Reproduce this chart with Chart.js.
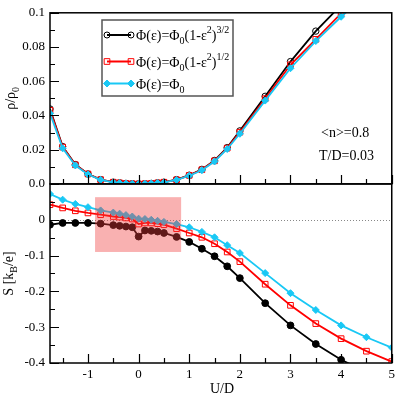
<!DOCTYPE html>
<html><head><meta charset="utf-8">
<script src="https://cdn.jsdelivr.net/npm/chart.js@4/dist/chart.umd.min.js"></script>
<style>html,body{margin:0;padding:0;background:#fff;}#wrap{width:399px;height:399px;}</style>
</head><body><div id="wrap"><canvas id="c" width="399" height="399"></canvas></div>
<script>
// ---- data ----
const uTop = [-1.75,-1.5,-1.25,-1,-0.75,-0.5,-0.375,-0.25,-0.125,0,0.125,0.25,0.375,0.5,0.75,1,1.25,1.5,1.75,2,2.5,3,3.5,4,4.5];
const rhoBlack = [0.0438,0.0218,0.0113,0.0058,0.0025,0.0010,0.0006,0.0003,0.0001,0.0000,0.0001,0.0003,0.0006,0.0010,0.0025,0.0051,0.0085,0.0137,0.0212,0.0310,0.0512,0.0715,0.0893,0.1045,0.1200];
const rhoRed   = [0.0430,0.0215,0.0112,0.0058,0.0025,0.0010,0.0006,0.0003,0.0001,0.0000,0.0001,0.0003,0.0006,0.0010,0.0024,0.0050,0.0083,0.0135,0.0209,0.0302,0.0498,0.0696,0.0845,0.0996,0.1140];
const rhoCyan  = [0.0412,0.0208,0.0108,0.0055,0.0024,0.0009,0.0005,0.0003,0.0001,0.0000,0.0001,0.0003,0.0005,0.0009,0.0023,0.0048,0.0080,0.0131,0.0204,0.0293,0.0487,0.0676,0.0835,0.0977,0.1110];
const uBot = [-1.75,-1.5,-1.25,-1,-0.75,-0.5,-0.375,-0.25,-0.125,0,0.125,0.25,0.375,0.5,0.75,1,1.25,1.5,1.75,2,2.5,3,3.5,4,4.5,5];
const sBlack = [-0.014,-0.009,-0.009,-0.009,-0.011,-0.015,-0.017,-0.019,-0.021,-0.047,-0.030,-0.031,-0.033,-0.037,-0.048,-0.062,-0.081,-0.102,-0.130,-0.163,-0.233,-0.295,-0.347,-0.391,-0.425];
const sRed   = [0.042,0.033,0.025,0.019,0.014,0.009,0.0075,0.005,0.002,-0.012,-0.009,-0.009,-0.011,-0.014,-0.025,-0.037,-0.049,-0.067,-0.090,-0.117,-0.180,-0.239,-0.290,-0.332,-0.367,-0.396];
const sCyan  = [0.072,0.056,0.044,0.035,0.026,0.020,0.017,0.013,0.009,0.003,0.002,0.000,-0.003,-0.006,-0.012,-0.021,-0.034,-0.049,-0.071,-0.093,-0.149,-0.205,-0.252,-0.295,-0.328,-0.357];
const xTicks = [-1,0,1,2,3,4,5];
const rhoTicks = [0,0.02,0.04,0.06,0.08,0.1];
const rhoTickLabels = ['0.0','0.02','0.04','0.06','0.08','0.1'];
const sTicks = [-0.4,-0.3,-0.2,-0.1,0];
const sTickLabels = ['-0.4','-0.3','-0.2','-0.1','0'];
const seriesNames = ['Φ(ε)=Φ0(1-ε²)^3/2','Φ(ε)=Φ0(1-ε²)^1/2','Φ(ε)=Φ0'];
const highlightU = [-0.86, 0.84];
const highlightS = [0.063, -0.090];

const BLACK = '#000000', RED = '#ff0000', CYAN = 'rgb(25,200,245)';
const FONT = '"Liberation Serif", "Times New Roman", serif';
Chart.defaults.font.family = FONT;

const pts = (xs, ys) => ys.map((v, i) => ({x: xs[i], y: v}));

function drawRich(ctx, segs, x, y) {
  let cx = x;
  for (const s of segs) {
    ctx.font = (s[1] === 'n' ? '14px ' : '10px ') + FONT;
    const dy = s[1] === 'sub' ? 4 : (s[1] === 'sup' ? -7 : 0);
    ctx.fillText(s[0], cx, y + dy);
    cx += ctx.measureText(s[0]).width;
  }
  return cx - x;
}
function richWidth(ctx, segs) {
  let w = 0;
  for (const s of segs) { ctx.font = (s[1] === 'n' ? '14px ' : '10px ') + FONT; w += ctx.measureText(s[0]).width; }
  return w;
}

const legendRows = [
  {color: BLACK, style: 'circle', fill: 'rgba(255,255,255,0)', r: 3, segs: [['Φ(ε)=Φ','n'],['0','sub'],['(1-ε','n'],['2','sup'],[')','n'],['3/2','sup']]},
  {color: RED, style: 'rect', fill: 'rgba(255,255,255,0)', r: 4, segs: [['Φ(ε)=Φ','n'],['0','sub'],['(1-ε','n'],['2','sup'],[')','n'],['1/2','sup']]},
  {color: CYAN, style: 'rectRot', fill: CYAN, r: 3.5, segs: [['Φ(ε)=Φ','n'],['0','sub']]}
];

const panelPlugin = {
  id: 'panels',
  beforeDatasetsDraw(chart) {
    const {ctx} = chart; const x = chart.scales.x, yb = chart.scales.yBot;
    ctx.save();
    ctx.strokeStyle = '#888'; ctx.lineWidth = 1; ctx.setLineDash([1, 2]);
    const y0 = Math.round(yb.getPixelForValue(0)) + 0.5;
    ctx.beginPath(); ctx.moveTo(x.left, y0); ctx.lineTo(x.right, y0); ctx.stroke();
    ctx.restore();
  },
  afterDatasetsDraw(chart) {
    const {ctx} = chart; const x = chart.scales.x, yt = chart.scales.yTop, yb = chart.scales.yBot;
    ctx.save();
    const rx0 = x.getPixelForValue(highlightU[0]), rx1 = x.getPixelForValue(highlightU[1]);
    const ry0 = yb.getPixelForValue(highlightS[0]), ry1 = yb.getPixelForValue(highlightS[1]);
    ctx.fillStyle = 'rgba(240,60,60,0.4)';
    ctx.fillRect(rx0, ry0, rx1 - rx0, ry1 - ry0);
    ctx.strokeStyle = '#000'; ctx.lineWidth = 1.5;
    ctx.strokeRect(x.left, yt.top, x.right - x.left, yt.bottom - yt.top);
    ctx.strokeRect(x.left, yb.top, x.right - x.left, yb.bottom - yb.top);
    ctx.lineWidth = 1.2;
    ctx.beginPath();
    for (let k = -3; k <= 10; k++) {
      const v = k / 2; if (v < x.min || v > x.max) continue;
      const px = Math.round(x.getPixelForValue(v)) + 0.5;
      const len = (k % 2 === 0) ? 9 : 5;
      for (const yy of [yt.bottom, yb.bottom]) { ctx.moveTo(px, yy); ctx.lineTo(px, yy - len); }
    }
    for (let k = 0; k <= 10; k++) {
      const py = Math.round(yt.getPixelForValue(k / 100)) + 0.5;
      const len = (k % 2 === 0) ? 9 : 5;
      ctx.moveTo(x.left, py); ctx.lineTo(x.left + len, py);
    }
    for (let k = -8; k <= 2; k++) {
      const py = Math.round(yb.getPixelForValue(k / 20)) + 0.5;
      const len = (k % 2 === 0) ? 9 : 5;
      ctx.moveTo(x.left, py); ctx.lineTo(x.left + len, py);
    }
    ctx.stroke();

    // legend
    ctx.fillStyle = '#fff';
    ctx.fillRect(102, 20, 131, 76);
    ctx.strokeStyle = '#555'; ctx.lineWidth = 1.5;
    ctx.strokeRect(102, 20, 131, 76);
    const rowY = [35, 61.5, 83.5];
    legendRows.forEach((r, i) => {
      const y = rowY[i];
      ctx.strokeStyle = r.color; ctx.lineWidth = 2;
      ctx.beginPath(); ctx.moveTo(107, y); ctx.lineTo(131, y); ctx.stroke();
      for (const mx of [107, 131]) {
        ctx.fillStyle = r.fill; ctx.strokeStyle = r.color; ctx.lineWidth = 1;
        Chart.helpers.drawPoint(ctx, {pointStyle: r.style, radius: r.r, borderWidth: 1, rotation: 0}, mx, y);
      }
      ctx.fillStyle = '#000'; ctx.textAlign = 'left'; ctx.textBaseline = 'alphabetic';
      drawRich(ctx, r.segs, 136, y + 5);
    });

    ctx.fillStyle = '#000'; ctx.font = '14px ' + FONT; ctx.textAlign = 'left'; ctx.textBaseline = 'alphabetic';
    ctx.fillText('<n>=0.8', 321, 137);
    ctx.fillText('T/D=0.03', 319, 160);
    ctx.textAlign = 'center';
    ctx.fillText('U/D', 222, 393);
    const titles = [
      {segs: [['ρ/ρ','n'],['0','sub']], cx: 15, cy: (yt.top + yt.bottom) / 2},
      {segs: [['S [k','n'],['B','sub'],['/e]','n']], cx: 13, cy: (yb.top + yb.bottom) / 2}
    ];
    ctx.textAlign = 'left';
    for (const t of titles) {
      ctx.save();
      ctx.translate(t.cx, t.cy); ctx.rotate(-Math.PI / 2);
      const w = richWidth(ctx, t.segs);
      drawRich(ctx, t.segs, -w / 2, 0);
      ctx.restore();
    }
    ctx.restore();
  }
};

const tickFont = {family: FONT, size: 13};
new Chart(document.getElementById('c'), {
  type: 'line',
  data: {
    datasets: [
      {label: seriesNames[0], yAxisID: 'yTop', data: pts(uTop, rhoBlack), borderColor: BLACK, borderWidth: 1.8,
       pointStyle: 'circle', pointRadius: 3.2, pointBorderWidth: 1, pointBorderColor: BLACK, pointBackgroundColor: 'rgba(0,0,0,0)', order: 3},
      {label: seriesNames[1], yAxisID: 'yTop', data: pts(uTop, rhoRed), borderColor: RED, borderWidth: 1.8,
       pointStyle: 'rect', pointRadius: 4, pointBorderWidth: 1, pointBorderColor: RED, pointBackgroundColor: 'rgba(0,0,0,0)', order: 2},
      {label: seriesNames[2], yAxisID: 'yTop', data: pts(uTop, rhoCyan), borderColor: CYAN, borderWidth: 1.8,
       pointStyle: 'rectRot', pointRadius: 3.5, pointBorderWidth: 1, pointBorderColor: CYAN, pointBackgroundColor: CYAN, order: 1},
      {label: seriesNames[0], yAxisID: 'yBot', data: pts(uBot, sBlack), borderColor: BLACK, borderWidth: 1.8,
       pointStyle: 'circle', pointRadius: 3.4, pointBorderWidth: 1, pointBorderColor: BLACK, pointBackgroundColor: BLACK, order: 3},
      {label: seriesNames[1], yAxisID: 'yBot', data: pts(uBot, sRed), borderColor: RED, borderWidth: 1.8,
       pointStyle: 'rect', pointRadius: 4, pointBorderWidth: 1, pointBorderColor: RED, pointBackgroundColor: 'rgba(0,0,0,0)', order: 2},
      {label: seriesNames[2], yAxisID: 'yBot', data: pts(uBot, sCyan), borderColor: CYAN, borderWidth: 1.8,
       pointStyle: 'rectRot', pointRadius: 3.5, pointBorderWidth: 1, pointBorderColor: CYAN, pointBackgroundColor: CYAN, order: 1}
    ]
  },
  options: {
    responsive: false, animation: false, devicePixelRatio: 1,
    layout: {padding: {top: 11, right: 5, left: 0, bottom: 0}},
    plugins: {legend: {display: false}, tooltip: {enabled: false}, title: {display: false}},
    elements: {line: {tension: 0}},
    scales: {
      x: {type: 'linear', min: -1.75, max: 5,
          afterBuildTicks: s => { s.ticks = xTicks.map(v => ({value: v})); },
          afterFit: s => { s.height = 36; },
          ticks: {font: tickFont, color: '#000', padding: 4, autoSkip: false, maxRotation: 0, callback: v => String(v)},
          grid: {display: false, drawTicks: false}, border: {display: false}},
      yTop: {type: 'linear', position: 'left', stack: 'panels', stackWeight: 172, weight: 2, min: 0, max: 0.1,
          afterBuildTicks: s => { s.ticks = rhoTicks.map(v => ({value: v})); },
          afterFit: s => { s.width = 50; },
          ticks: {font: tickFont, color: '#000', padding: 5, autoSkip: false, callback: (v, i) => rhoTickLabels[i]},
          grid: {display: false, drawTicks: false}, border: {display: false}},
      yBot: {type: 'linear', position: 'left', stack: 'panels', stackWeight: 180, weight: 1, min: -0.4, max: 0.1,
          afterBuildTicks: s => { s.ticks = sTicks.map(v => ({value: v})); },
          afterFit: s => { s.width = 50; },
          ticks: {font: tickFont, color: '#000', padding: 5, autoSkip: false, callback: (v, i) => sTickLabels[i]},
          grid: {display: false, drawTicks: false}, border: {display: false}}
    }
  },
  plugins: [panelPlugin]
});
</script>
</body></html>
